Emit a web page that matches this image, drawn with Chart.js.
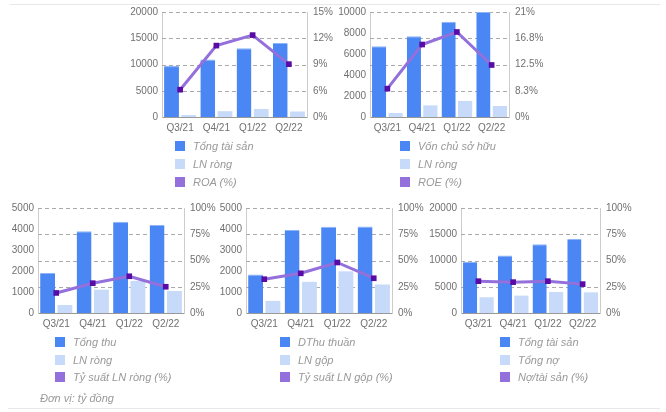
<!DOCTYPE html>
<html><head><meta charset="utf-8">
<script src="https://cdn.jsdelivr.net/npm/chart.js@4"></script>
<style>
body{margin:0;width:666px;height:412px;position:relative;background:#fff;font-family:"Liberation Sans",Arial,sans-serif;overflow:hidden}
.box{position:absolute}
.sep{position:absolute;height:0;border-top:1px solid #e8e8e8}
.sq{position:absolute;width:10px;height:10px}
.lt{position:absolute;font-size:11px;font-style:italic;color:#999;white-space:nowrap;line-height:14px}
</style></head>
<body>
<div class="sep" style="left:10px;top:4px;width:650px"></div>
<div class="sep" style="left:8px;top:408px;width:652px"></div>
<script>
const categories = ['Q3/21','Q4/21','Q1/22','Q2/22'];
const tongTaiSan = [9700, 10950, 13080, 14080];
const lnRong = [380, 1110, 1530, 1050];
const roa = [3.9, 10.2, 11.7, 7.55];
const vonChuSoHuu = [6740, 7700, 9070, 10000];
const roe = [5.67, 14.5, 17.0, 10.4];
const tongThu = [1900, 3890, 4340, 4190];
const tySuatLNRong = [19.1, 28.4, 35.0, 25.0];
const dThuThuan = [1830, 3950, 4110, 4125];
const lnGop = [578, 1484, 1984, 1359];
const tySuatLNGop = [32.2, 37.8, 48.1, 33.1];
const tongNo = [3000, 3310, 4000, 3940];
const noTaiSan = [30.3, 29.4, 30.3, 27.5];
const roaTicks = ['0%','6%','9%','12%','15%'];
const roeTicks = ['0%','8.3%','12.5%','16.8%','21%'];
const pctTicks = ['0%','25%','50%','75%','100%'];

const DARK='#4a86f4', LIGHT='#c8dafa', LINE='#9370db', POINT='#590ca5';
const TICK='#707070';
const FONT={family:'"Liberation Sans", Arial, sans-serif', size:10};

const dashGrid={id:'dashGrid',beforeDatasetsDraw(ch){
  const s=ch.scales.y1, a=ch.chartArea, ctx=ch.ctx;
  ctx.save();ctx.strokeStyle='#aaa';ctx.lineWidth=1;ctx.setLineDash([4,3]);
  s.ticks.forEach((t,i)=>{ if(i===0) return;
    const y=Math.round(s.getPixelForValue(t.value))+0.5;
    ctx.beginPath();ctx.moveTo(a.left,y);ctx.lineTo(a.right,y);ctx.stroke();});
  ctx.restore();}};

function makeChart(cfg){
  const LW=60, RW=45, TP=10, XH=25;
  const div=document.createElement('div');
  div.className='box';
  const w=cfg.plot[1]-cfg.plot[0]+LW+RW, h=cfg.plot[3]-cfg.plot[2]+TP+XH;
  div.style.left=(cfg.plot[0]-LW)+'px'; div.style.top=(cfg.plot[2]-TP)+'px';
  div.style.width=w+'px'; div.style.height=h+'px';
  const cv=document.createElement('canvas'); div.appendChild(cv); document.body.appendChild(div);
  new Chart(cv,{
    data:{labels:categories,datasets:[
      {type:'line',label:cfg.names[2],data:cfg.line,yAxisID:'y1',order:0,borderColor:LINE,borderWidth:3,
        pointStyle:'rect',pointRadius:4,pointBackgroundColor:POINT,pointBorderWidth:0,tension:0},
      {type:'bar',label:cfg.names[0],data:cfg.bars[0],yAxisID:'y',order:1,backgroundColor:DARK,
        borderColor:'#8fb3f7',borderWidth:{top:1,left:0,right:0,bottom:0},borderSkipped:'bottom',
        categoryPercentage:0.95,barPercentage:0.86},
      {type:'bar',label:cfg.names[1],data:cfg.bars[1],yAxisID:'y',order:2,backgroundColor:LIGHT,
        categoryPercentage:0.95,barPercentage:0.86}
    ]},
    options:{responsive:true,maintainAspectRatio:false,animation:false,
      layout:{padding:{top:TP,left:0,right:0,bottom:0}},
      plugins:{legend:{display:false},tooltip:{enabled:false}},
      scales:{
        x:{offset:true,grid:{display:false,drawTicks:false},border:{display:true,color:'#999'},
          ticks:{color:TICK,font:FONT,padding:5,maxRotation:0,autoSkip:false},
          afterFit:s=>{s.height=XH;}},
        y:{position:'left',min:0,max:cfg.leftMax,grid:{display:false,drawTicks:false},
          border:{display:true,color:'#ccc'},
          ticks:{stepSize:cfg.leftStep,color:TICK,font:FONT,padding:4,callback:v=>String(v)},
          afterFit:s=>{s.width=LW;}},
        y1:{position:'right',min:0,max:cfg.rightMax,
          grid:{display:false,drawTicks:false},
          border:{display:true,color:'#ccc'},
          afterBuildTicks:s=>{s.ticks=[0,1,2,3,4].map(i=>({value:cfg.rightMax*i/4}));},
          ticks:{color:TICK,font:FONT,padding:6,callback:(v,i)=>cfg.rightLabels[i]},
          afterFit:s=>{s.width=RW;}}
      }
    },
    plugins:[dashGrid]
  });
  const colors=[DARK,LIGHT,LINE];
  cfg.names.forEach((n,i)=>{
    const cy=cfg.legend[1]+i*cfg.legend[2];
    const sq=document.createElement('div');sq.className='sq';sq.style.background=colors[i];
    sq.style.left=cfg.legend[0]+'px';sq.style.top=(cy-5)+'px';document.body.appendChild(sq);
    const t=document.createElement('div');t.className='lt';t.textContent=n;
    t.style.left=(cfg.legend[0]+18)+'px';t.style.top=(cy-7)+'px';document.body.appendChild(t);
  });
}

makeChart({plot:[162,307,10,117],bars:[tongTaiSan,lnRong],line:roa,leftMax:20000,leftStep:5000,
  rightMax:15,rightLabels:roaTicks,names:['Tổng tài sản','LN ròng','ROA (%)'],legend:[175,146,18]});
makeChart({plot:[370,509,10,117],bars:[vonChuSoHuu,lnRong],line:roe,leftMax:10000,leftStep:2000,
  rightMax:21,rightLabels:roeTicks,names:['Vốn chủ sở hữu','LN ròng','ROE (%)'],legend:[400,146,18]});
makeChart({plot:[38,184,206,313],bars:[tongThu,lnRong],line:tySuatLNRong,leftMax:5000,leftStep:1000,
  rightMax:100,rightLabels:pctTicks,names:['Tổng thu','LN ròng','Tỷ suất LN ròng (%)'],legend:[55,342,17.5]});
makeChart({plot:[246,392,206,313],bars:[dThuThuan,lnGop],line:tySuatLNGop,leftMax:5000,leftStep:1000,
  rightMax:100,rightLabels:pctTicks,names:['DThu thuần','LN gộp','Tỷ suất LN gộp (%)'],legend:[280,342,17.5]});
makeChart({plot:[461,600,206,313],bars:[tongTaiSan,tongNo],line:noTaiSan,leftMax:20000,leftStep:5000,
  rightMax:100,rightLabels:pctTicks,names:['Tổng tài sản','Tổng nợ','Nợ/tài sản (%)'],legend:[500,342,17.5]});

const unit=document.createElement('div');unit.className='lt';unit.textContent='Đơn vị: tỷ đồng';
unit.style.left='40px';unit.style.top='391px';document.body.appendChild(unit);
</script>
</body></html>
